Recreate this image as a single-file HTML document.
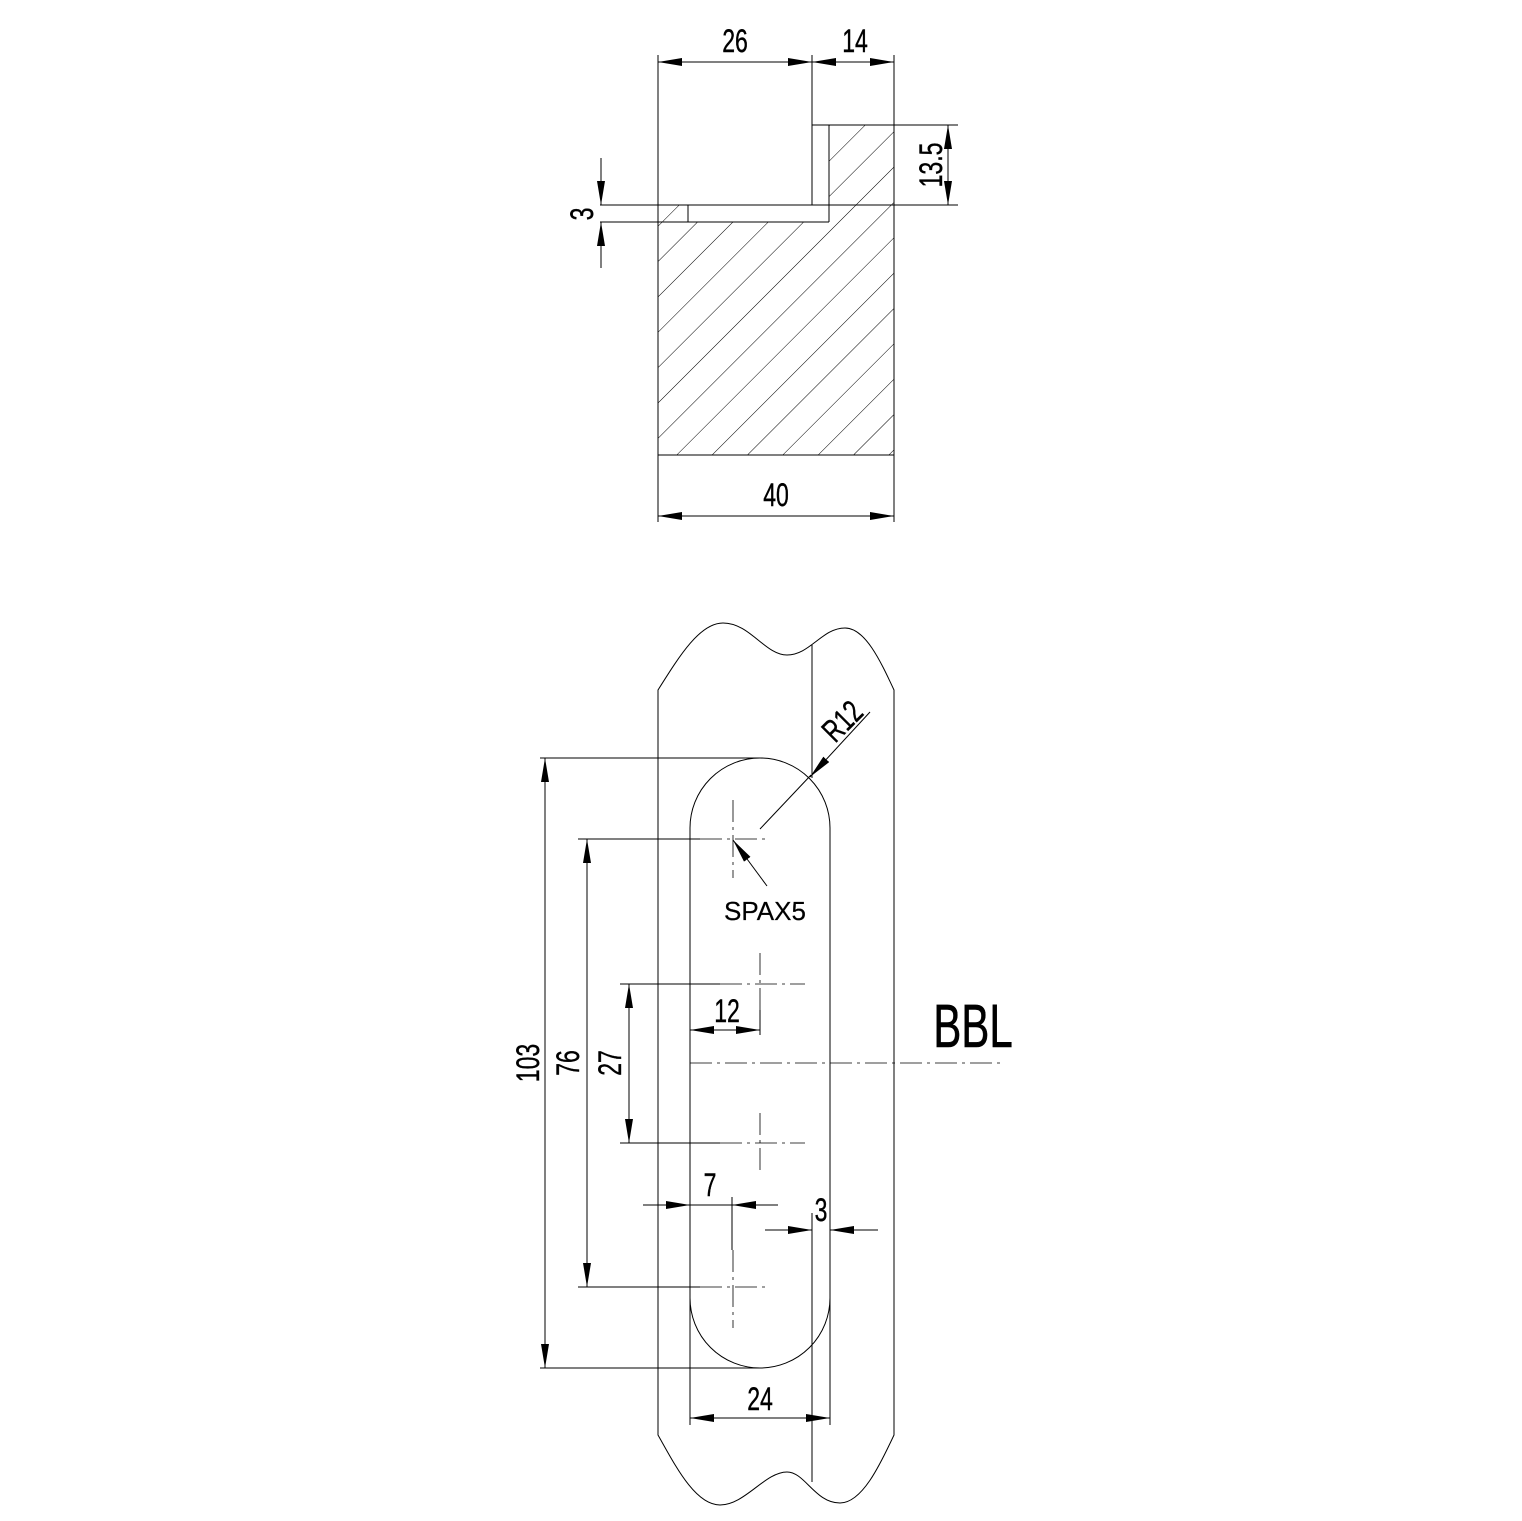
<!DOCTYPE html>
<html><head><meta charset="utf-8"><style>html,body{margin:0;padding:0;background:#fff}svg{display:block}</style></head>
<body>
<svg width="1522" height="1521" viewBox="0 0 1522 1521" xmlns="http://www.w3.org/2000/svg" font-family="Liberation Sans, sans-serif">
<defs>
<pattern id="h" patternUnits="userSpaceOnUse" width="25" height="25" patternTransform="rotate(45)">
<line x1="0" y1="0" x2="0" y2="25" stroke="#000" stroke-width="1"/>
</pattern>
<marker id="a" viewBox="0 0 24 8" refX="24" refY="4" markerWidth="24" markerHeight="8" markerUnits="userSpaceOnUse" orient="auto-start-reverse">
<path d="M0,0 L24,4 L0,8 z" fill="#000"/>
</marker>
</defs>
<g stroke="#000" stroke-width="1" fill="none">
<path d="M658,205 H688 V222 H658 Z" fill="url(#h)" stroke="none"/>
<path d="M829,125 H894 V455 H658 V222 H829 Z" fill="url(#h)" stroke="none"/>
<path d="M658,205 V455 H894 V125 H812"/>
<line x1="812" y1="55" x2="812" y2="205"/>
<line x1="829" y1="125" x2="829" y2="222"/>
<line x1="600" y1="205" x2="958" y2="205"/>
<line x1="600" y1="222" x2="829" y2="222"/>
<line x1="688" y1="205" x2="688" y2="222"/>
<line x1="894" y1="125" x2="958" y2="125"/>
<line x1="658" y1="55" x2="658" y2="205"/>
<line x1="894" y1="55" x2="894" y2="125"/>
<line x1="658" y1="455" x2="658" y2="522"/>
<line x1="894" y1="455" x2="894" y2="522"/>
<line x1="658" y1="62" x2="812" y2="62" marker-start="url(#a)" marker-end="url(#a)"/>
<line x1="812" y1="62" x2="894" y2="62" marker-start="url(#a)" marker-end="url(#a)"/>
<line x1="658" y1="516" x2="894" y2="516" marker-start="url(#a)" marker-end="url(#a)"/>
<line x1="948" y1="125" x2="948" y2="205" marker-start="url(#a)" marker-end="url(#a)"/>
<line x1="601" y1="158" x2="601" y2="205" marker-end="url(#a)"/>
<line x1="601" y1="268" x2="601" y2="222" marker-end="url(#a)"/>

<path d="M658,690 C680,655 700,623 723,623 C750,623 765,655 787,655 C810,655 822,628 845,628 C865,628 880,660 894,690 V1435 C880,1465 862,1503 840,1503 C815,1503 805,1472 787,1472 C765,1472 745,1505 720,1505 C695,1505 675,1465 658,1435 Z"/>
<line x1="812" y1="645" x2="812" y2="778"/>
<line x1="812" y1="1213" x2="812" y2="1482"/>
<path d="M690,828 A70,70 0 0 1 830,828 V1298 A70,70 0 0 1 690,1298 Z"/>
<line x1="540" y1="758" x2="760" y2="758"/>
<line x1="540" y1="1368" x2="760" y2="1368"/>
<line x1="545" y1="758" x2="545" y2="1368" marker-start="url(#a)" marker-end="url(#a)"/>
<line x1="578" y1="839" x2="700" y2="839"/>
<line x1="578" y1="1287" x2="700" y2="1287"/>
<line x1="587" y1="839" x2="587" y2="1287" marker-start="url(#a)" marker-end="url(#a)"/>
<line x1="620" y1="984" x2="720" y2="984"/>
<line x1="620" y1="1143" x2="720" y2="1143"/>
<line x1="629" y1="984" x2="629" y2="1143" marker-start="url(#a)" marker-end="url(#a)"/>
<line x1="760" y1="1010" x2="760" y2="1035"/>
<line x1="690" y1="1030" x2="760" y2="1030" marker-start="url(#a)" marker-end="url(#a)"/>
<line x1="643" y1="1205" x2="690" y2="1205" marker-end="url(#a)"/>
<line x1="778" y1="1205" x2="732" y2="1205" marker-end="url(#a)"/>
<line x1="690" y1="1205" x2="732" y2="1205"/>
<line x1="732" y1="1197" x2="732" y2="1250"/>
<line x1="765" y1="1230" x2="812" y2="1230" marker-end="url(#a)"/>
<line x1="878" y1="1230" x2="830" y2="1230" marker-end="url(#a)"/>
<line x1="690" y1="1298" x2="690" y2="1425"/>
<line x1="830" y1="1298" x2="830" y2="1425"/>
<line x1="690" y1="1418" x2="830" y2="1418" marker-start="url(#a)" marker-end="url(#a)"/>
<line x1="760" y1="829" x2="811" y2="775"/>
<line x1="870" y1="712" x2="810" y2="777" marker-end="url(#a)"/>
<line x1="767" y1="886" x2="733" y2="840" marker-end="url(#a)"/>
</g>
<g stroke="#000" stroke-width="0.8" fill="none" stroke-dasharray="22,5,3,5">
<line x1="700" y1="839" x2="770" y2="839"/>
<line x1="733" y1="800" x2="733" y2="878"/>
<line x1="700" y1="1287" x2="770" y2="1287"/>
<line x1="733" y1="1250" x2="733" y2="1328"/>
<line x1="720" y1="984" x2="805" y2="984"/>
<line x1="760" y1="953" x2="760" y2="1010"/>
<line x1="720" y1="1143" x2="805" y2="1143"/>
<line x1="760" y1="1113" x2="760" y2="1175"/>
<line x1="690" y1="1063" x2="1000" y2="1063"/>
</g>
<g fill="#000" stroke="#000" stroke-width="0.4" font-size="32" text-anchor="middle">
<text transform="translate(735,52) scale(0.72,1)">26</text>
<text transform="translate(855,52) scale(0.72,1)">14</text>
<text transform="translate(776,506) scale(0.72,1)">40</text>
<text transform="translate(942,165) rotate(-90) scale(0.72,1)">13.5</text>
<text transform="translate(593,214) rotate(-90) scale(0.72,1)">3</text>
<text transform="translate(539,1063) rotate(-90) scale(0.72,1)">103</text>
<text transform="translate(579,1063) rotate(-90) scale(0.72,1)">76</text>
<text transform="translate(621,1063) rotate(-90) scale(0.72,1)">27</text>
<text transform="translate(727,1022) scale(0.72,1)">12</text>
<text transform="translate(710,1196) scale(0.72,1)">7</text>
<text transform="translate(821,1221) scale(0.72,1)">3</text>
<text transform="translate(760,1410) scale(0.72,1)">24</text>
<text transform="translate(850,729) rotate(-45) scale(0.72,1)">R12</text>
<text x="765" y="920" font-size="26" stroke-width="0.2">SPAX5</text>
<text transform="translate(973,1047) scale(0.69,1)" font-size="61" stroke-width="0.6">BBL</text>
</g>
</svg>
</body></html>
